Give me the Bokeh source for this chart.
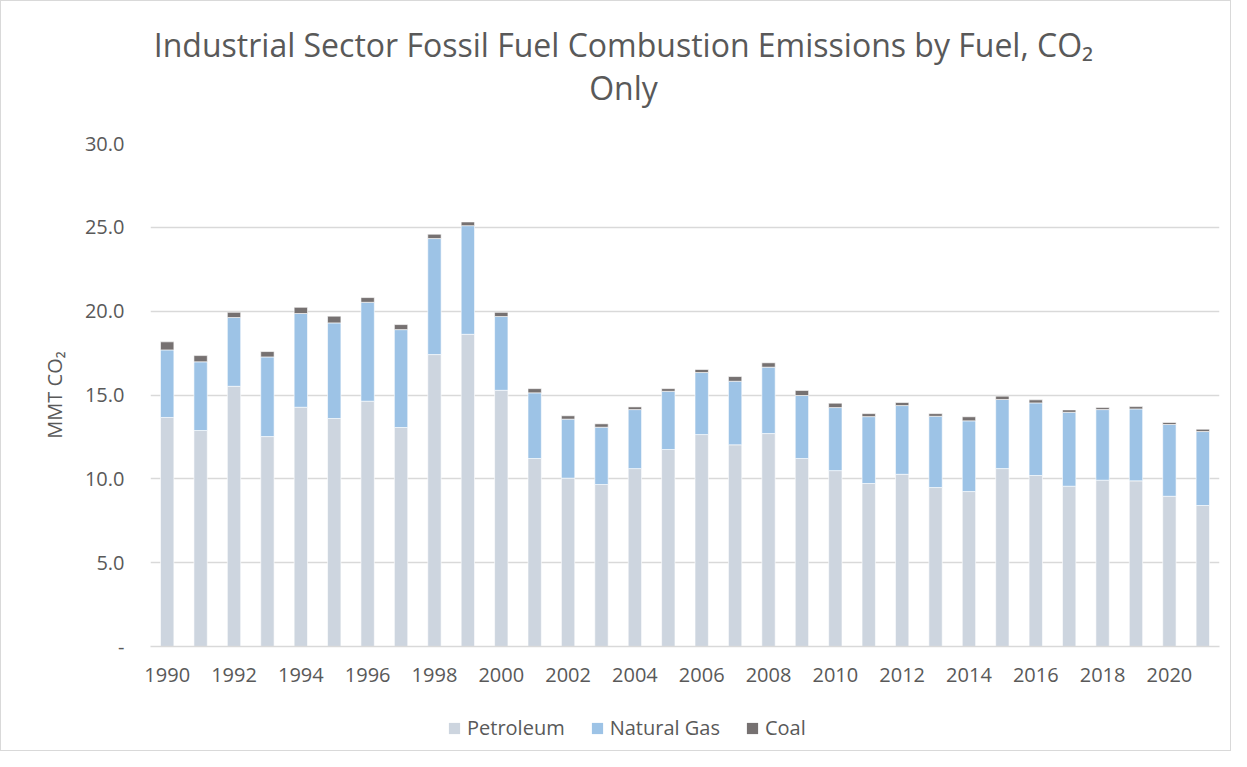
from bokeh.plotting import figure
from bokeh.layouts import column
from bokeh.models import ColumnDataSource, FixedTicker, Legend, LegendItem, Label, PrintfTickFormatter, Range1d
from bokeh.embed import file_html
from bokeh.resources import INLINE

years = list(range(1990, 2022))
petroleum = [13.66, 12.88, 15.52, 12.52, 14.27, 13.60, 14.63, 13.06, 17.41, 18.62,
             15.28, 11.21, 10.04, 9.66, 10.61, 11.75, 12.64, 12.03, 12.70, 11.21,
             10.49, 9.72, 10.27, 9.48, 9.24, 10.61, 10.20, 9.56, 9.92, 9.88,
             8.96, 8.41]
natural_gas = [4.03, 4.10, 4.10, 4.75, 5.59, 5.70, 5.90, 5.84, 6.92, 6.48,
               4.40, 3.92, 3.52, 3.42, 3.52, 3.47, 3.70, 3.79, 3.96, 3.76,
               3.76, 3.99, 4.10, 4.25, 4.22, 4.12, 4.33, 4.41, 4.21, 4.29,
               4.28, 4.41]
coal = [0.48, 0.37, 0.31, 0.32, 0.37, 0.40, 0.28, 0.30, 0.26, 0.22,
        0.25, 0.25, 0.20, 0.20, 0.16, 0.16, 0.18, 0.28, 0.26, 0.30,
        0.26, 0.18, 0.18, 0.16, 0.24, 0.20, 0.18, 0.14, 0.12, 0.14,
        0.12, 0.14]
y_ticks = [0, 5, 10, 15, 20, 25, 30]
x_ticks = list(range(1990, 2022, 2))
series_names = ["Petroleum", "Natural Gas", "Coal"]
series_colors = ["#CDD5DF", "#9DC3E6", "#767171"]
title_line1 = "Industrial Sector Fossil Fuel Combustion Emissions by Fuel, CO\u2082"
title_line2 = "Only"
y_label = "MMT CO\u2082"

TEXT = "#595959"
GRID = "#D9D9D9"
FONT = "Open Sans"

p0 = petroleum
p1 = [a + b for a, b in zip(petroleum, natural_gas)]
p2 = [a + b for a, b in zip(p1, coal)]
src = ColumnDataSource(dict(x=years, b0=[0] * len(years), t0=p0, t1=p1, t2=p2))

W = 1229
H_TITLE, H_MAIN, H_LEG = 115, 590, 44
FL, FR = 149, 11
FT, FB = 142 - H_TITLE, 60


def strip(height):
    f = figure(width=W, height=height, output_backend="svg", toolbar_location=None,
               x_range=Range1d(0, 1), y_range=Range1d(0, 1),
               x_axis_location=None, y_axis_location=None,
               min_border_left=FL, min_border_right=FR, min_border_top=0, min_border_bottom=0)
    f.title = None
    f.outline_line_color = None
    f.grid.visible = False
    return f


# ---- title strip
tp = strip(H_TITLE)
cx = 623 - 1 - FL
for txt, yoff in ((title_line1, 72), (title_line2, 29)):
    tp.add_layout(Label(x=cx, y=yoff, x_units="screen", y_units="screen", text=txt,
                        text_font=FONT, text_font_size="32px", text_color=TEXT,
                        text_align="center", text_baseline="alphabetic"))

# ---- main chart
p = figure(width=W, height=H_MAIN, output_backend="svg", toolbar_location=None,
           x_range=Range1d(1989.5, 2021.5), y_range=Range1d(0, 30),
           min_border_left=FL, min_border_right=FR, min_border_top=FT, min_border_bottom=FB)
p.title = None
p.outline_line_color = None
p.background_fill_color = "white"
p.border_fill_color = "white"

bw = 0.4
p.vbar(x="x", bottom="b0", top="t0", width=bw, source=src, fill_color=series_colors[0], line_color="white", line_width=0.6)
p.vbar(x="x", bottom="t0", top="t1", width=bw, source=src, fill_color=series_colors[1], line_color="white", line_width=0.6)
p.vbar(x="x", bottom="t1", top="t2", width=bw, source=src, fill_color=series_colors[2], line_color="white", line_width=0.6)

p.xaxis.ticker = FixedTicker(ticks=x_ticks)
p.xaxis.formatter = PrintfTickFormatter(format="%d")
p.xaxis.major_tick_line_color = None
p.xaxis.minor_tick_line_color = None
p.xaxis.axis_line_color = GRID
p.xaxis.axis_line_width = 1.5
p.xaxis.major_label_text_font = FONT
p.xaxis.major_label_text_font_size = "20px"
p.xaxis.major_label_text_color = TEXT
p.xaxis.major_label_standoff = 15

p.yaxis.ticker = FixedTicker(ticks=y_ticks)
p.yaxis.formatter = PrintfTickFormatter(format="%.1f")
p.yaxis.major_label_overrides = {0: "-"}
p.yaxis.major_tick_line_color = None
p.yaxis.minor_tick_line_color = None
p.yaxis.axis_line_color = None
p.yaxis.major_label_text_font = FONT
p.yaxis.major_label_text_font_size = "20px"
p.yaxis.major_label_text_color = TEXT
p.yaxis.major_label_standoff = 20
p.yaxis.axis_label = y_label
p.yaxis.axis_label_text_font = FONT
p.yaxis.axis_label_text_font_size = "20px"
p.yaxis.axis_label_text_font_style = "normal"
p.yaxis.axis_label_text_color = TEXT
p.yaxis.axis_label_standoff = 14

p.xgrid.grid_line_color = None
p.ygrid.grid_line_color = GRID
p.ygrid.grid_line_width = 1.5

# ---- legend strip
lg = strip(H_LEG)
swatch = ColumnDataSource(dict(x=[0.5], b=[0], t=[0]))
lr = [lg.vbar(x="x", bottom="b", top="t", width=0.01, source=swatch, fill_color=c, line_color=None)
      for c in series_colors]
legend = Legend(items=[LegendItem(label=series_names[i], renderers=[lr[i]]) for i in range(3)],
                orientation="horizontal", location=(297, 9),
                glyph_width=14, glyph_height=14, label_standoff=6, spacing=25,
                padding=0, margin=0, border_line_color=None, background_fill_alpha=0,
                label_text_font=FONT, label_text_font_size="20px", label_text_color=TEXT,
                label_height=20)
lg.add_layout(legend, "center")

layout = column(tp, p, lg, spacing=0, styles={"border": "1px solid #D9D9D9", "background-color": "white"})

open("out.html", "w").write(file_html(layout, INLINE))
